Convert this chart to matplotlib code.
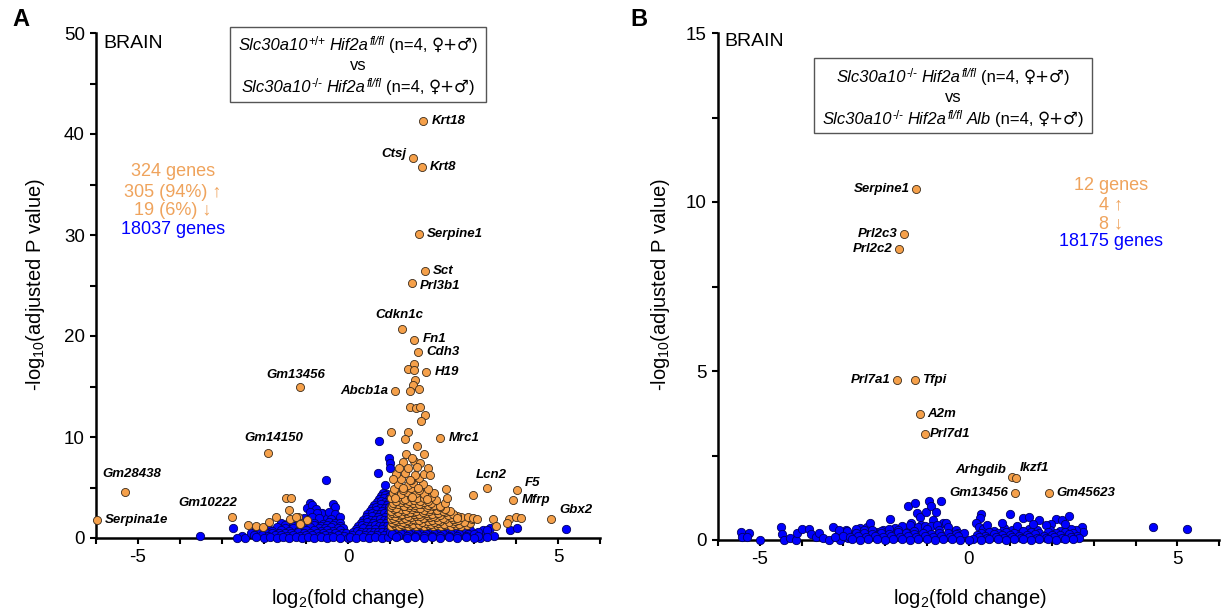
import matplotlib
matplotlib.use('Agg')
import matplotlib.pyplot as plt
from matplotlib.patches import Rectangle

plt.rcParams['font.family'] = ['Liberation Sans', 'DejaVu Sans']
plt.rcParams['axes.unicode_minus'] = False
plt.rcParams['mathtext.fontset'] = 'custom'
plt.rcParams['mathtext.rm'] = 'Liberation Sans'
plt.rcParams['mathtext.it'] = 'Liberation Sans:italic'

ORANGE = '#F5A04A'
ORANGE_TXT = '#EFA35C'
BLUE = '#0000FF'

# ---------------- panel A data (log2 FC, -log10 padj) ----------------
A_lab_genes = ['Krt18', 'Ctsj', 'Krt8', 'Serpine1', 'Sct', 'Prl3b1', 'Cdkn1c', 'Fn1',
               'Cdh3', 'H19', 'Abcb1a', 'Gm13456', 'Gm14150', 'Mrc1', 'Lcn2', 'F5',
               'Mfrp', 'Gbx2', 'Gm28438', 'Serpina1e', 'Gm10222']
A_lab_x = [1.79, 1.55, 1.76, 1.69, 1.83, 1.52, 1.29, 1.57, 1.67, 1.86, 1.12, -1.14, -1.90,
           2.19, 3.31, 4.02, 3.93, 4.83, -5.31, -5.98, -2.76]
A_lab_y = [41.3, 37.6, 36.7, 30.1, 26.4, 25.2, 20.7, 19.6, 18.4, 16.4, 14.6, 15.0, 8.4,
           9.9, 5.0, 4.8, 3.8, 1.9, 4.55, 1.8, 2.1]

# scattered significant genes (read one by one)
A_sig_x = [1.57, 1.43, 1.57, 1.60, 1.55, 1.48, 1.69, 1.48, 1.62, 1.71, 1.83, 1.74, 1.02, 1.43,
           1.36, 1.64, 1.38, 1.81, 1.52, 1.21, 1.43, 1.64, 1.90, 1.07, 1.48, 1.95, 1.31, 1.67,
           2.33, 2.98, 1.12, 1.52, 1.88, 2.36, 2.60, 2.98, 3.07, 3.45, 3.52, 3.83, 4.00, 4.12,
           3.79,
           -1.48, -1.36, -1.40, -1.71, -1.38, -1.19, -0.98, -1.14, -2.38, -2.19, -2.02, -1.88,
           -1.24, -1.14]
A_sig_y = [17.2, 16.7, 16.6, 15.6, 15.1, 14.6, 14.75, 13.0, 12.9, 13.0, 12.2, 11.6, 10.5, 10.5,
           9.8, 9.1, 8.3, 8.3, 7.9, 6.9, 6.9, 7.0, 6.9, 5.8, 5.7, 6.2, 5.0, 5.0,
           4.9, 4.3, 4.0, 4.1, 3.9, 4.0, 2.0, 2.0, 1.9, 1.9, 1.2, 1.9, 2.1, 2.0,
           1.5,
           4.0, 4.0, 2.8, 2.1, 1.9, 2.1, 1.8, 1.5, 1.3, 1.2, 1.1, 1.6,
           2.1, 1.4]

# dense up-regulated cluster (estimated from the packed area)
A_core_x = [1.02, 1.12, 1.22, 1.32, 1.42, 1.52, 1.62, 1.72, 1.82, 1.92, 2.02, 2.12, 2.22, 2.32,
            2.45, 2.58, 2.70, 2.83,
            1.07, 1.25, 1.37, 1.55, 1.68, 1.85, 1.98, 2.15, 2.28, 2.50, 2.65, 2.90,
            1.05, 1.18, 1.30, 1.45, 1.60, 1.75, 1.90, 2.05, 2.20, 2.40, 2.55, 2.75,
            1.02, 1.12, 1.25, 1.40, 1.55, 1.68, 1.82, 2.00, 2.15, 2.32, 2.50, 2.62, 2.95,
            1.08, 1.20, 1.35, 1.50, 1.62, 1.78, 1.95, 2.10, 2.25, 2.45, 2.70, 2.85,
            1.02, 1.12, 1.25, 1.42, 1.57, 1.72, 1.88, 2.03, 2.20, 2.38, 2.60,
            1.05, 1.15, 1.28, 1.40, 1.55, 1.70, 1.85, 2.00, 2.15, 2.30, 2.50,
            1.03, 1.20, 1.33, 1.47, 1.62, 1.78, 1.92, 2.08, 2.25, 2.42,
            1.10, 1.25, 1.38, 1.52, 1.65, 1.80, 1.95, 2.12, 2.30,
            1.02, 1.15, 1.30, 1.45, 1.58, 1.72, 1.87, 2.02, 2.18,
            1.05, 1.20, 1.33, 1.47, 1.60, 1.75, 1.90, 2.05, 2.20,
            1.08, 1.25, 1.40, 1.55, 1.68, 1.82, 1.98, 2.30,
            1.15, 1.30, 1.45, 1.58, 1.72, 1.90, 2.10,
            1.03, 1.20, 1.35, 1.50, 1.65, 1.80, 1.97,
            1.08, 1.25, 1.40, 1.62, 1.80, 2.05,
            1.10, 1.30, 1.50, 1.70, 1.90,
            1.20, 1.42, 1.55, 1.78,
            1.25, 1.50, 1.70,
            1.15, 1.35, 1.60, 1.80,
            1.30, 1.58, 1.72]
A_core_y = [1.20, 1.28, 1.22, 1.30, 1.18, 1.26, 1.21, 1.32, 1.20, 1.27, 1.23, 1.30, 1.19, 1.25,
            1.22, 1.29, 1.20, 1.24,
            1.45, 1.38, 1.50, 1.42, 1.36, 1.48, 1.40, 1.52, 1.37, 1.44, 1.41, 1.47,
            1.62, 1.70, 1.58, 1.66, 1.74, 1.60, 1.68, 1.57, 1.72, 1.63, 1.69, 1.60,
            1.85, 1.78, 1.92, 1.80, 1.88, 1.76, 1.95, 1.82, 1.79, 1.90, 1.84, 1.77, 1.86,
            2.02, 2.10, 1.98, 2.08, 2.15, 2.00, 2.12, 2.05, 1.97, 2.09, 2.03, 2.11,
            2.25, 2.18, 2.30, 2.22, 2.35, 2.20, 2.28, 2.17, 2.32, 2.24, 2.21,
            2.45, 2.52, 2.40, 2.48, 2.55, 2.42, 2.50, 2.38, 2.46, 2.53, 2.41,
            2.65, 2.60, 2.72, 2.62, 2.70, 2.58, 2.68, 2.75, 2.63, 2.66,
            2.85, 2.92, 2.80, 2.88, 2.95, 2.82, 2.90, 2.78, 2.86,
            3.05, 3.00, 3.12, 3.02, 3.10, 2.98, 3.08, 3.15, 3.03,
            3.25, 3.32, 3.20, 3.30, 3.22, 3.35, 3.24, 3.28, 3.21,
            3.45, 3.52, 3.42, 3.50, 3.40, 3.55, 3.47, 3.44,
            3.65, 3.72, 3.62, 3.78, 3.68, 3.64, 3.75,
            3.95, 4.02, 3.90, 4.10, 3.98, 3.92, 4.05,
            4.45, 4.38, 4.52, 4.42, 4.35, 4.50,
            4.85, 4.75, 4.95, 4.80, 4.90,
            5.35, 5.28, 5.40, 5.30,
            5.85, 5.75, 5.90,
            6.30, 6.40, 6.25, 6.35,
            7.50, 7.60, 7.45]

# non-significant genes
A_ns_x = [0.74, 0.98, 1.00, 1.00, 0.71, -0.52, 0.88, 0.81, -3.52, -2.74, -2.52, -2.45, -2.64,
          5.19, 3.86, 4.02, 3.48, 3.38, 3.21, 3.07, 3.14,
          -0.90, -0.98, -0.86, -0.76, -0.62, -0.36, -0.31, -0.50, -0.26, -0.12, -0.64,
          -0.90, -0.75, -0.45, -0.30,
          -1.20, -1.05, -0.85, -0.70, -0.40, -0.20,
          -1.60, -1.40, -1.20, -1.00, -0.80, -0.60, -0.45, -0.30, -0.18,
          -1.50, -1.30, -1.10, -0.95, -0.80, -0.65, -0.50, -0.35, -0.20,
          -2.20, -1.90, -1.70, -1.50, -1.30, -1.10, -0.90, -0.70, -0.55, -0.40, -0.25, -0.12,
          -2.00, -1.80, -1.60, -1.40, -1.20, -1.00, -0.80, -0.65, -0.50, -0.35, -0.20,
          -2.30, -2.10, -1.95, -1.80, -1.65, -1.50, -1.35, -1.20, -1.05, -0.90, -0.75, -0.60,
          -0.45, -0.30, -0.15, -0.05,
          -2.25, -2.05, -1.90, -1.75, -1.60, -1.45, -1.30, -1.15, -1.00, -0.85, -0.70, -0.55,
          -0.40, -0.25, -0.10,
          -2.20, -2.00, -1.85, -1.70, -1.55, -1.40, -1.25, -1.10, -0.95, -0.80, -0.65, -0.50,
          -0.35, -0.20, 0.00]
A_ns_y = [9.6, 7.9, 7.4, 6.9, 6.4, 5.7, 5.2, 4.3, 0.15, 1.0, 0.2, 0.0, 0.0,
          0.9, 0.8, 1.0, 0.2, 1.0, 0.8, 0.5, 0.0,
          3.5, 3.0, 3.3, 2.9, 2.5, 3.4, 3.1, 2.1, 2.1, 0.8, 2.5,
          2.55, 2.45, 2.6, 2.4,
          2.0, 1.95, 2.1, 2.0, 1.9, 2.05,
          1.5, 1.55, 1.45, 1.6, 1.5, 1.42, 1.58, 1.5, 1.47,
          1.25, 1.2, 1.3, 1.22, 1.28, 1.18, 1.3, 1.24, 1.2,
          1.0, 0.95, 1.05, 0.98, 1.02, 0.94, 1.06, 1.0, 0.96, 1.04, 1.0, 0.97,
          0.75, 0.72, 0.78, 0.74, 0.7, 0.8, 0.76, 0.73, 0.78, 0.71, 0.75,
          0.5, 0.48, 0.53, 0.5, 0.46, 0.52, 0.49, 0.55, 0.5, 0.47, 0.52, 0.5,
          0.48, 0.53, 0.5, 0.46,
          0.25, 0.28, 0.22, 0.26, 0.3, 0.24, 0.27, 0.21, 0.25, 0.29, 0.23, 0.26,
          0.24, 0.28, 0.22,
          0.05, 0.03, 0.06, 0.04, 0.05, 0.02, 0.06, 0.04, 0.05, 0.03, 0.06, 0.04,
          0.05, 0.03, 0.0]

# right arm of the "V" and the base beneath the orange cluster
A_vee_x = [0.83, 0.93,
           0.78, 0.88, 0.95,
           0.74, 0.86, 0.98,
           0.68, 0.78, 0.88, 0.97,
           0.63, 0.78, 0.92,
           0.57, 0.67, 0.77, 0.87, 0.97,
           0.52, 0.67, 0.82, 0.95,
           0.46, 0.56, 0.66, 0.76, 0.86, 0.96,
           0.42, 0.57, 0.72, 0.87,
           0.35, 0.45, 0.55, 0.65, 0.75, 0.85, 0.95,
           0.30, 0.45, 0.60, 0.75, 0.90,
           0.24, 0.34, 0.44, 0.54, 0.64, 0.74, 0.84, 0.94,
           0.20, 0.35, 0.50, 0.65, 0.80, 0.95,
           0.12, 0.22, 0.32, 0.42, 0.52, 0.62, 0.72, 0.82, 0.92,
           0.10, 0.25, 0.40, 0.55, 0.70, 0.85,
           0.05, 0.20, 0.35, 0.50, 0.65, 0.80, 0.95,
           1.10, 1.30, 1.50, 1.70, 1.90, 2.10, 2.30, 2.50, 2.70, 2.90, 3.30,
           1.00, 1.20, 1.40, 1.60, 1.80, 2.00, 2.20, 2.40, 2.60, 2.80, 3.10,
           1.05, 1.25, 1.45, 1.65, 1.85, 2.05, 2.25, 2.45, 2.65, 2.85, 3.00,
           1.20, 1.40, 1.60, 1.80, 2.00, 2.20, 2.40, 2.60, 2.80, 3.10,
           1.15, 1.40, 1.60, 1.80, 2.00, 2.20, 2.40, 2.60, 2.80, 3.00, 3.30]
A_vee_y = [4.5, 4.4,
           4.2, 4.3, 4.1,
           3.9, 3.95, 3.85,
           3.6, 3.65, 3.55, 3.6,
           3.3, 3.35, 3.25,
           3.0, 3.05, 2.95, 3.0, 3.05,
           2.7, 2.75, 2.65, 2.7,
           2.4, 2.45, 2.35, 2.4, 2.45, 2.38,
           2.1, 2.15, 2.05, 2.1,
           1.8, 1.85, 1.75, 1.8, 1.85, 1.78, 1.82,
           1.5, 1.55, 1.45, 1.5, 1.52,
           1.2, 1.25, 1.15, 1.2, 1.25, 1.18, 1.22, 1.2,
           0.9, 0.95, 0.85, 0.9, 0.92, 0.88,
           0.6, 0.65, 0.55, 0.6, 0.62, 0.58, 0.6, 0.64, 0.57,
           0.3, 0.35, 0.28, 0.32, 0.3, 0.33,
           0.05, 0.03, 0.06, 0.04, 0.05, 0.02, 0.06,
           0.8, 0.82, 0.78, 0.8, 0.83, 0.79, 0.81, 0.8, 0.78, 0.82, 0.8,
           0.6, 0.62, 0.58, 0.6, 0.63, 0.59, 0.61, 0.6, 0.58, 0.62, 0.6,
           0.4, 0.42, 0.38, 0.4, 0.43, 0.39, 0.41, 0.4, 0.38, 0.42, 0.4,
           0.2, 0.22, 0.18, 0.2, 0.23, 0.19, 0.21, 0.2, 0.18, 0.22,
           0.05, 0.03, 0.06, 0.04, 0.05, 0.02, 0.06, 0.04, 0.05, 0.03, 0.05]

# ---------------- panel B data ----------------
B_lab_genes = ['Serpine1', 'Prl2c3', 'Prl2c2', 'Prl7a1', 'Tfpi', 'A2m', 'Prl7d1',
               'Arhgdib', 'Ikzf1', 'Gm13456', 'Gm45623']
B_lab_x = [-1.25, -1.54, -1.66, -1.71, -1.28, -1.15, -1.05, 1.04, 1.13, 1.11, 1.93]
B_lab_y = [10.38, 9.05, 8.6, 4.73, 4.73, 3.72, 3.13, 1.86, 1.83, 1.39, 1.39]

B_ns_x = [-5.45, -5.42, -5.25, -5.30, -5.00, -4.48, -4.46, -4.43, -4.27, -4.14, -4.10, -4.00,
          -3.81, -3.78, -3.66, -3.57, -3.49, -3.35, -3.25, -3.13, -3.08, -2.99, -2.94, -2.89,
          -2.77, -2.60, -2.58, -2.43, -2.36, -2.34, -2.22, -2.12, -2.05, -1.98, -1.88, -1.76,
          -1.64, -1.49, -1.45, -1.37, -1.28, -1.23, -1.16, -1.13, -1.01, -0.94, -0.89, -0.84,
          -0.77, -0.65, -0.60, -0.53, -0.43, -0.31, -0.24, -0.17,
          0.29, 0.27, 0.99, 1.30, 1.45, 1.69, 2.10, 2.24, 2.41, 2.72, 2.75, 2.58, 1.98, 0.19,
          0.24, 4.41, 5.23]
B_ns_y = [0.24, 0.10, 0.21, 0.10, 0.00, 0.38, 0.18, 0.00, 0.06, 0.00, 0.20, 0.33,
          0.33, 0.18, 0.09, 0.20, 0.06, 0.00, 0.38, 0.15, 0.00, 0.24, 0.30, 0.06,
          0.15, 0.35, 0.06, 0.38, 0.50, 0.15, 0.24, 0.09, 0.30, 0.03, 0.62, 0.35,
          0.15, 0.24, 1.00, 0.50, 1.09, 0.80, 0.68, 0.44, 0.83, 1.15, 1.00, 0.59,
          0.83, 1.15, 0.50, 0.50, 0.24, 0.30, 0.20, 0.09,
          0.77, 0.65, 0.77, 0.65, 0.68, 0.59, 0.62, 0.59, 0.71, 0.38, 0.24, 0.30, 0.47, 0.50,
          0.38, 0.38, 0.33]

# packed low band of panel B
B_band_x = [0.35, 0.60, 0.85, 1.05, 1.25, 1.45, 1.65, 1.95, 2.20, 2.45,
            0.45, 0.80, 1.15, 1.55, 1.85, 2.30,
            0.30, 0.50, 0.70, 0.90, 1.10, 1.30, 1.50, 1.70, 1.90, 2.10, 2.30, 2.50,
            0.20, 0.40, 0.60, 0.80, 1.00, 1.20, 1.40, 1.60, 1.80, 2.00, 2.20, 2.40, 2.60,
            0.25, 0.45, 0.65, 0.85, 1.05, 1.25, 1.45, 1.65, 1.85, 2.05, 2.25, 2.45, 2.65,
            0.10, 0.30, 0.50, 0.70, 0.90, 1.10, 1.30, 1.50, 1.70, 1.90, 2.10, 2.30, 2.50,
            -1.60, -1.40, -1.20, -1.05, -0.90, -0.75, -0.50,
            -3.10, -2.90, -2.70, -2.50, -2.30, -2.10, -1.90, -1.70, -1.30, -1.00, -0.70,
            -2.70, -2.50, -2.30, -2.10, -1.90, -1.70, -1.50, -1.30, -1.10, -0.90, -0.70, -0.50,
            -0.30, -0.10,
            -3.20, -3.00, -2.85, -2.65, -2.45, -2.25, -2.05, -1.85, -1.65, -1.45, -1.25, -1.05,
            -0.85, -0.65, -0.45, -0.25,
            -2.80, -2.60, -2.40, -2.20, -2.00, -1.80, -1.60, -1.40, -1.20, -1.00, -0.80, -0.60,
            -0.40, -0.20, 0.00]
B_band_y = [0.32, 0.28, 0.35, 0.30, 0.26, 0.33, 0.29, 0.31, 0.27, 0.34,
            0.45, 0.50, 0.42, 0.48, 0.44, 0.47,
            0.22, 0.25, 0.20, 0.24, 0.21, 0.26, 0.23, 0.20, 0.25, 0.22, 0.24, 0.21,
            0.15, 0.12, 0.17, 0.14, 0.16, 0.13, 0.15, 0.18, 0.12, 0.16, 0.14, 0.17, 0.13,
            0.08, 0.06, 0.09, 0.07, 0.08, 0.05, 0.09, 0.07, 0.06, 0.08, 0.05, 0.09, 0.07,
            0.02, 0.01, 0.03, 0.02, 0.01, 0.03, 0.02, 0.01, 0.03, 0.02, 0.01, 0.03, 0.02,
            0.40, 0.44, 0.38, 0.42, 0.40, 0.45, 0.38,
            0.30, 0.27, 0.32, 0.29, 0.31, 0.28, 0.33, 0.30, 0.27, 0.32, 0.29,
            0.20, 0.22, 0.18, 0.21, 0.19, 0.23, 0.20, 0.18, 0.22, 0.19, 0.21, 0.20,
            0.18, 0.22,
            0.10, 0.12, 0.09, 0.11, 0.10, 0.13, 0.09, 0.11, 0.10, 0.12, 0.09, 0.11,
            0.10, 0.12, 0.09, 0.11,
            0.02, 0.01, 0.03, 0.02, 0.01, 0.03, 0.02, 0.01, 0.03, 0.02, 0.01, 0.03,
            0.02, 0.01, 0.00]

# label placement: (dx, dy) in points, horizontal alignment
A_lab_pos = [(6, 0, 'left'), (-5, 3, 'right'), (6, 0, 'left'), (6, 0, 'left'), (6, 0, 'left'),
             (6, -2, 'left'), (-2, 10, 'center'), (6, 1, 'left'), (6, 0, 'left'), (6, 0, 'left'),
             (-5, 0, 'right'), (-3, 8, 'center'), (4, 11, 'center'), (6, 0, 'left'),
             (3, 9, 'center'), (6, 5, 'left'), (6, 0, 'left'), (6, 6, 'left'),
             (5, 13, 'center'), (6, 0, 'left'), (4, 10, 'right')]
B_lab_pos = [(-5, 0, 'right'), (-5, 0, 'right'), (-5, 0, 'right'), (-5, 0, 'right'),
             (5, 0, 'left'), (5, 0, 'left'), (4, 0, 'left'), (-4, 5, 'right'),
             (3, 7, 'left'), (-5, 0, 'right'), (5, 0, 'left')]

W, H = 1224, 610
fig = plt.figure(figsize=(W / 100, H / 100), dpi=100)
renderer = fig.canvas.get_renderer()


def fx(px):
    return px / W


def fy(py):
    return 1 - py / H


def style_axes(ax, ymax, ystep):
    ax.set_xlim(-6, 6)
    ax.set_ylim(0, ymax)
    for s in ['top', 'right']:
        ax.spines[s].set_visible(False)
    for s in ['left', 'bottom']:
        ax.spines[s].set_linewidth(1.8)
    ax.set_xticks([-5, 0, 5])
    ax.set_xticks(range(-6, 7), minor=True)
    ax.set_yticks([i * ystep for i in range(int(ymax / ystep) + 1)])
    ax.set_yticks([i * ystep / 2 for i in range(int(2 * ymax / ystep) + 1)], minor=True)
    ax.tick_params(which='both', direction='out', length=4.5, width=1.5, labelsize=13.5)
    ax.set_facecolor('none')


def draw(ax, blue_sets, orange_sets, lab_x, lab_y, genes, pos):
    for bx, by in blue_sets:
        ax.scatter(bx, by, s=36, c=BLUE, edgecolors='#000060', linewidths=0.6,
                   clip_on=False, zorder=3)
    for ox, oy in orange_sets:
        ax.scatter(ox, oy, s=34, c=ORANGE, edgecolors='#3a2a1a', linewidths=0.6,
                   clip_on=False, zorder=4)
    ax.scatter(lab_x, lab_y, s=34, c=ORANGE, edgecolors='#3a2a1a', linewidths=0.6,
               clip_on=False, zorder=5)
    for g, x, y, (dx, dy, ha) in zip(genes, lab_x, lab_y, pos):
        ax.annotate(g, (x, y), xytext=(dx, dy), textcoords='offset points', ha=ha,
                    va='center', fontsize=9.5, fontweight='bold', fontstyle='italic',
                    zorder=6)


def rich_line(xc, ybase, runs):
    # runs: (text, fontsize, rise in px, style, gap before in px, font family)
    arts = []
    total = 0
    for text, size, rise, style, gap, fam in runs:
        t = fig.text(0, fy(ybase - rise), text, fontsize=size, fontstyle=style,
                     family=fam, ha='left', va='baseline')
        w = t.get_window_extent(renderer).width
        arts.append((t, gap, w))
        total += gap + w
    x = xc - total / 2
    for t, gap, w in arts:
        x += gap
        t.set_x(fx(x))
        x += w


axA = fig.add_axes([fx(96), fy(538), fx(600 - 96), (538 - 33) / H])
style_axes(axA, 50, 10)
draw(axA, [(A_ns_x, A_ns_y), (A_vee_x, A_vee_y)], [(A_core_x, A_core_y), (A_sig_x, A_sig_y)],
     A_lab_x, A_lab_y, A_lab_genes, A_lab_pos)

axB = fig.add_axes([fx(718), fy(540), fx(1219 - 718), (540 - 33) / H])
style_axes(axB, 15, 5)
draw(axB, [(B_ns_x, B_ns_y), (B_band_x, B_band_y)], [], B_lab_x, B_lab_y, B_lab_genes,
     B_lab_pos)

# axis titles
for cx in [348, 970]:
    fig.text(fx(cx), fy(598), r'log$_2$(fold change)', ha='center', va='center', fontsize=14.5)
for cx in [36, 660]:
    fig.text(fx(cx), fy(285), r'-log$_{10}$(adjusted P value)', ha='center', va='center',
             rotation=90, fontsize=14.5)

# panel letters and tissue
fig.text(fx(12), fy(20), 'A', fontsize=17, fontweight='bold', ha='left', va='center')
fig.text(fx(630), fy(20), 'B', fontsize=17, fontweight='bold', ha='left', va='center')
fig.text(fx(103), fy(43), 'BRAIN', fontsize=14, ha='left', va='center')
fig.text(fx(724), fy(42), 'BRAIN', fontsize=14, ha='left', va='center')

# comparison boxes
FS, SS = 12, 8.5
LIB = ['Liberation Sans']
SYM = ['DejaVu Sans']


def genotype(sup, extra=None):
    runs = [('Slc30a10', FS, 0, 'italic', 0, LIB), (sup, SS, 5, 'normal', 1, LIB),
            ('Hif2a', FS, 0, 'italic', 4, LIB), ('fl/fl', SS, 5, 'italic', 1, LIB)]
    if extra:
        runs.append((extra, FS, 0, 'italic', 4, LIB))
    runs += [('(n=4,', FS, 0, 'normal', 4, LIB), ('♀+♂', FS, 0, 'normal', 4, SYM),
             (')', FS, 0, 'normal', 0, LIB)]
    return runs


fig.add_artist(Rectangle((fx(230), fy(102)), fx(486 - 230), (102 - 27) / H,
                         transform=fig.transFigure, fill=False, edgecolor='#555555',
                         linewidth=1.0))
rich_line(358, 50, genotype('+/+'))
fig.text(fx(358), fy(65), 'vs', fontsize=FS, ha='center', va='center')
rich_line(358, 92, genotype('-/-'))

fig.add_artist(Rectangle((fx(814), fy(133)), fx(1092 - 814), (133 - 58) / H,
                         transform=fig.transFigure, fill=False, edgecolor='#555555',
                         linewidth=1.0))
rich_line(953, 82, genotype('-/-'))
fig.text(fx(953), fy(97), 'vs', fontsize=FS, ha='center', va='center')
rich_line(953, 124, genotype('-/-', 'Alb'))

# gene counts
countsA = [('324 genes', ORANGE_TXT), ('305 (94%) ↑', ORANGE_TXT), ('19 (6%) ↓', ORANGE_TXT),
           ('18037 genes', BLUE)]
for (t, c), y in zip(countsA, [172, 192, 211, 230]):
    fig.text(fx(173), fy(y), t, color=c, ha='center', va='center', fontsize=13)
countsB = [('12 genes', ORANGE_TXT), ('4 ↑', ORANGE_TXT), ('8 ↓', ORANGE_TXT),
           ('18175 genes', BLUE)]
for (t, c), y in zip(countsB, [185, 205, 224, 242]):
    fig.text(fx(1111), fy(y), t, color=c, ha='center', va='center', fontsize=13)

fig.savefig('out.png', dpi=100)
